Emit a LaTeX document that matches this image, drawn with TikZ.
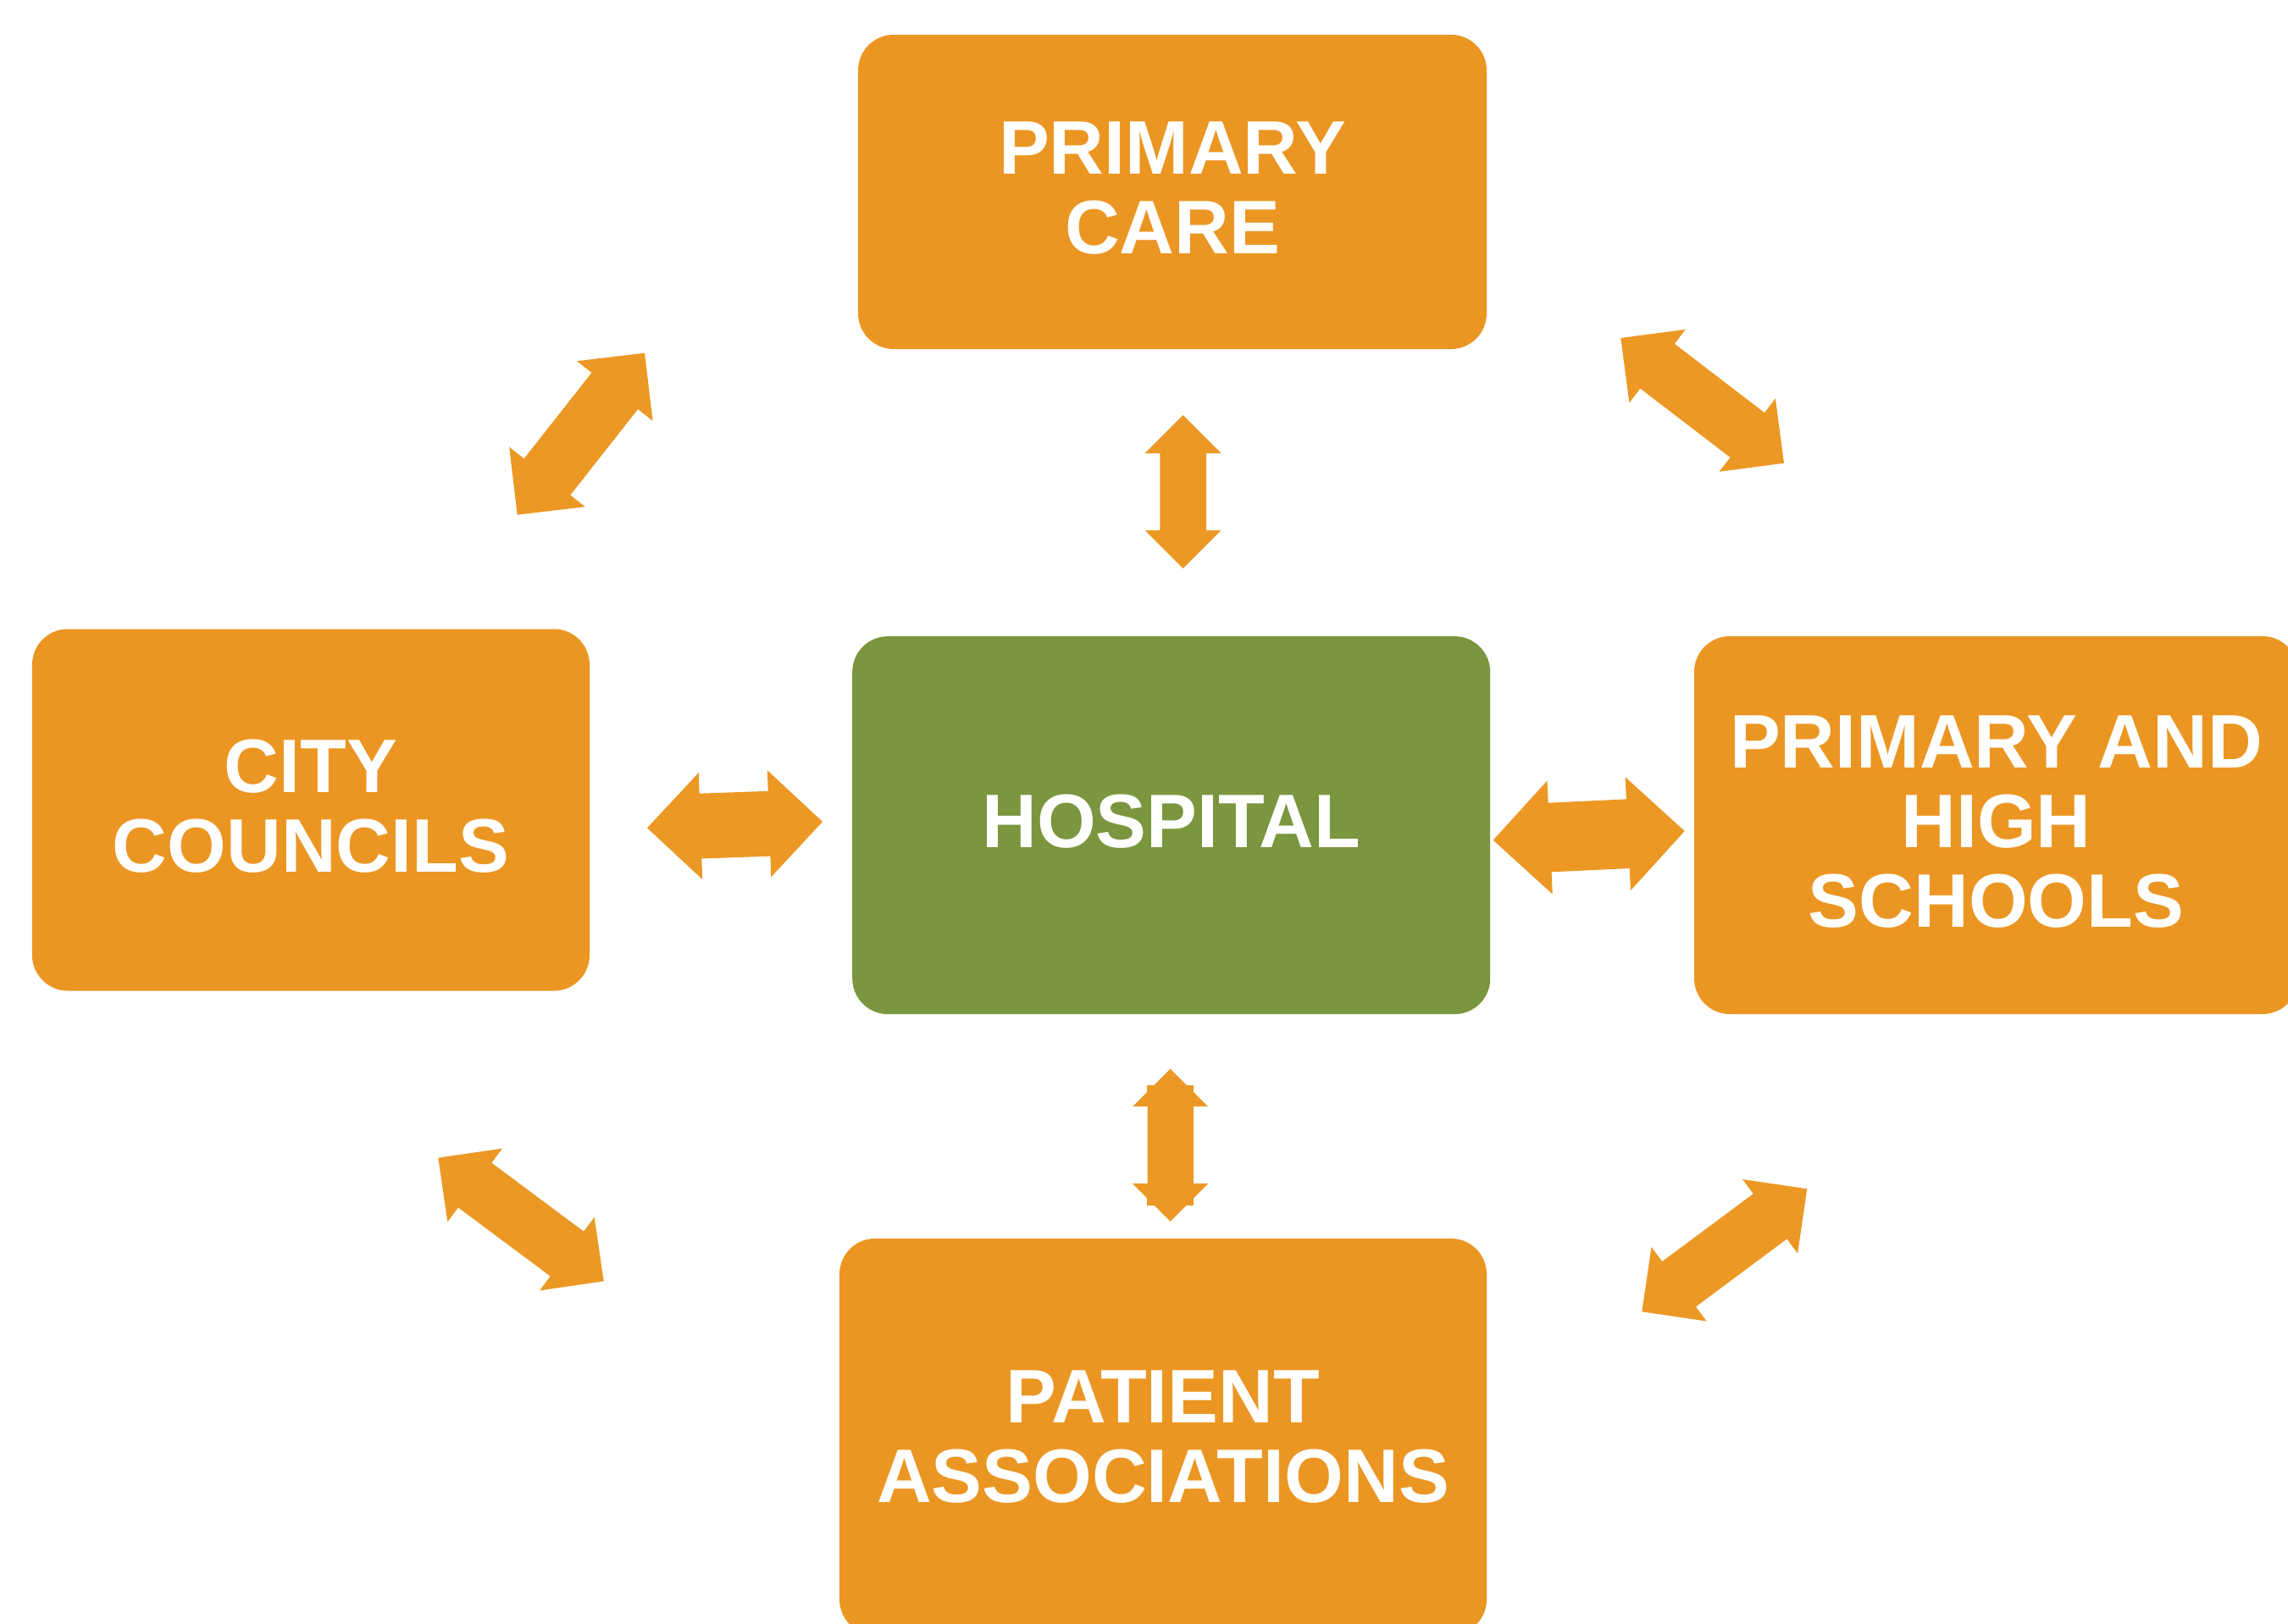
\documentclass[tikz,border=0pt]{standalone}
\usepackage{fontspec}
\setmainfont{Liberation Sans}
\usetikzlibrary{calc}
\definecolor{boxorange}{RGB}{235,150,35}
\definecolor{arroworange}{RGB}{236,152,36}
\definecolor{hospgreen}{RGB}{122,150,62}
\tikzset{
  orangebox/.style={rectangle, rounded corners=0.42cm, fill=boxorange, text=white, inner sep=0pt, align=center,
    text depth=0.09cm, font=\fontsize{25.5pt}{26.7pt}\selectfont\bfseries},
  greenbox/.style={orangebox, fill=hospgreen},
  arrowfill/.style={fill=arroworange}
}
\newcommand{\twowayarrow}[3]{%
  \fill[arrowfill] (#1)
    -- ($(#1)!#3/2!(#2)!#3/2!90:(#2)$)
    -- ($(#1)!#3/2!(#2)!0.305*#3!90:(#2)$)
    -- ($(#2)!#3/2!(#1)!0.305*#3!-90:(#1)$)
    -- ($(#2)!#3/2!(#1)!#3/2!-90:(#1)$)
    -- (#2)
    -- ($(#2)!#3/2!(#1)!#3/2!90:(#1)$)
    -- ($(#2)!#3/2!(#1)!0.305*#3!90:(#1)$)
    -- ($(#1)!#3/2!(#2)!0.305*#3!-90:(#2)$)
    -- ($(#1)!#3/2!(#2)!#3/2!-90:(#2)$)
    -- cycle;}
\begin{document}
\begin{tikzpicture}
        \useasboundingbox (0,0) rectangle (27.01,-19.16);
        \node[orangebox, minimum width=7.42cm, minimum height=3.71cm] (care) at (13.84,-2.265) {PRIMARY\\CARE};
        \node[orangebox, minimum width=6.58cm, minimum height=4.27cm] (councils) at (3.67,-9.56) {CITY\\COUNCILS};
        \node[greenbox, minimum width=7.53cm, minimum height=4.46cm] (hospital) at (13.827,-9.741) {HOSPITAL};
        \node[orangebox, minimum width=7.13cm, minimum height=4.46cm] (schools) at (23.565,-9.74) {PRIMARY AND\\HIGH\\SCHOOLS};
        \node[orangebox, text depth=0pt, minimum width=7.64cm, minimum height=4.68cm] (patients) at (13.73,-16.96) {PATIENT\\ASSOCIATIONS};
        \coordinate (ch1) at (13.967,-4.90);
        \coordinate (ch2) at (13.967,-6.71);
        \coordinate (hp1) at (13.817,-12.617);
        \coordinate (hp2) at (13.817,-14.417);
        \coordinate (kh1) at (7.64,-9.773);
        \coordinate (kh2) at (9.71,-9.70);
        \coordinate (hs1) at (17.627,-9.917);
        \coordinate (hs2) at (19.887,-9.81);
        \coordinate (kc1) at (6.107,-6.077);
        \coordinate (kc2) at (7.61,-4.167);
        \coordinate (cs1) at (19.133,-3.99);
        \coordinate (cs2) at (21.06,-5.467);
        \coordinate (kp1) at (5.173,-13.667);
        \coordinate (kp2) at (7.127,-15.123);
        \coordinate (sp1) at (19.383,-15.483);
        \coordinate (sp2) at (21.333,-14.033);
        \twowayarrow{ch1}{ch2}{0.90cm}
        \twowayarrow{hp1}{hp2}{0.89cm}
        \fill[arrowfill] (13.54,-12.807) rectangle (14.09,-13.06);
        \fill[arrowfill] (13.54,-13.97) rectangle (14.09,-14.233);
        \twowayarrow{kh1}{kh2}{1.26cm}
        \twowayarrow{hs1}{hs2}{1.34cm}
        \twowayarrow{kc1}{kc2}{1.14cm}
        \twowayarrow{cs1}{cs2}{1.09cm}
        \twowayarrow{kp1}{kp2}{1.08cm}
        \twowayarrow{sp1}{sp2}{1.09cm}
        \end{tikzpicture}
\end{document}
